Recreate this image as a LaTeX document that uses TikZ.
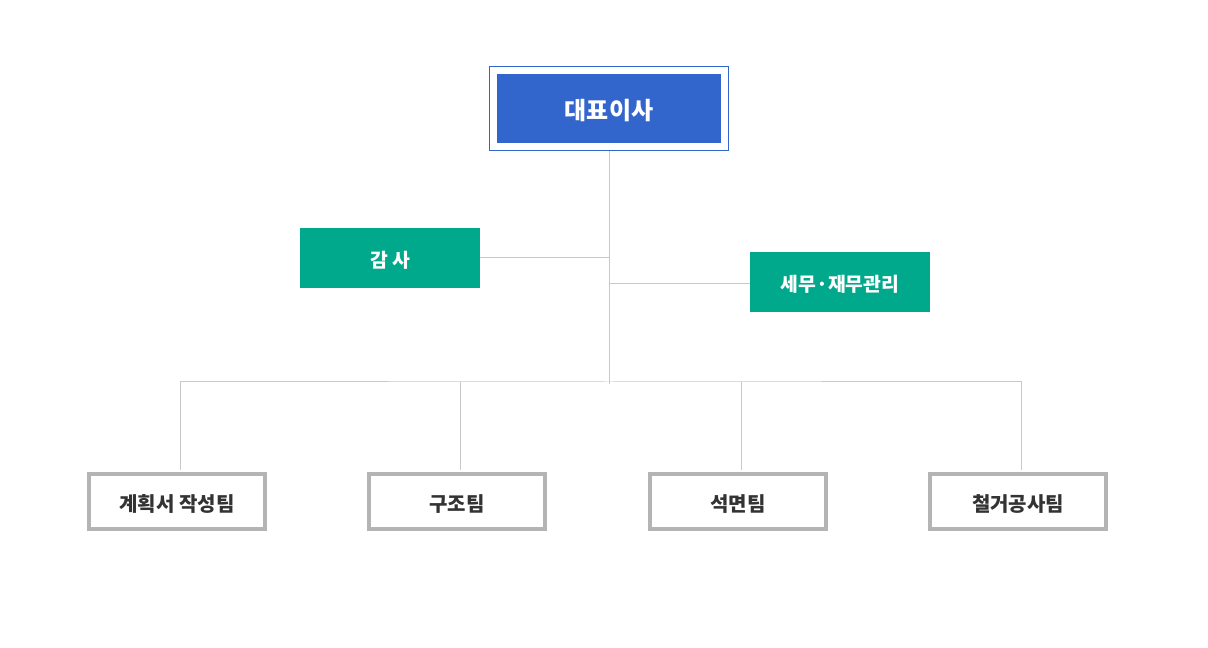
\documentclass[tikz,border=0pt]{standalone}
\usepackage{fontspec}
\newfontfamily\kr{Noto Sans CJK KR}
\usepackage{tikz}
\usetikzlibrary{calc,fit}

\definecolor{ceoblue}{RGB}{51,102,204}
\definecolor{staffgreen}{RGB}{0,168,140}
\definecolor{wire}{RGB}{200,200,200}
\definecolor{teamgray}{RGB}{180,180,180}
\definecolor{teamtext}{RGB}{51,51,51}

\begin{document}
\begin{tikzpicture}[x=0.75pt,y=-0.75pt,
  ceobox/.style={fill=ceoblue, text=white, minimum width=168pt, minimum height=51.75pt, inner sep=0pt, text depth=0pt, text height=16.4pt, font=\kr\bfseries\fontsize{18}{21}\selectfont},
  staffbox/.style={fill=staffgreen, text=white, minimum width=135pt, minimum height=45pt, inner sep=0pt, text depth=0pt, text height=13.8pt, font=\kr\bfseries\fontsize{14.5}{17}\selectfont},
  teambox/.style={draw=teamgray, line width=3pt, fill=white, text=teamtext, minimum width=132pt, minimum height=41.25pt, inner sep=0pt, text depth=0pt, text height=15.6pt, font=\kr\bfseries\fontsize{15}{18}\selectfont},
  wireline/.style={draw=wire, line width=0.75pt}]
\useasboundingbox (0,0) rectangle (1208,648);
% top
\node[ceobox] (ceo) at (609,108.5) {대표이사};
\node[draw=ceoblue, line width=0.75pt, inner sep=5.6pt, fit=(ceo)] (ceoframe) {};
% staff
\node[staffbox] (audit) at (390,258) {감 사};
\node[staffbox] (tax) at (840,282) {세무·재무관리};
% teams
\node[teambox] (plan) at (177,501.5) {계획서 작성팀};
\node[teambox] (struct) at (457,501.5) {구조팀};
\node[teambox] (stone) at (738,501.5) {석면팀};
\node[teambox] (demol) at (1018,501.5) {철거공사팀};
\coordinate (hub) at (609,382);
% lines
\draw[wireline] (ceoframe.south) -- ($(hub)+(0,2)$);
\draw[wireline] (audit.east) -- (audit.east -| hub);
\draw[wireline] ($(tax.west)+(0,2)$) -- ($(tax.west -| hub)+(0,2)$);
\draw[wireline] ($(plan.north)+(3,-2)$) |- (hub) -| ($(demol.north)+(3,-2)$);
\draw[wireline] ($(struct.north)+(3,-2)$) -- ($(struct.north |- hub)+(3,0)$);
\draw[wireline] ($(stone.north)+(3,-2)$) -- ($(stone.north |- hub)+(3,0)$);
\end{tikzpicture}
\end{document}
